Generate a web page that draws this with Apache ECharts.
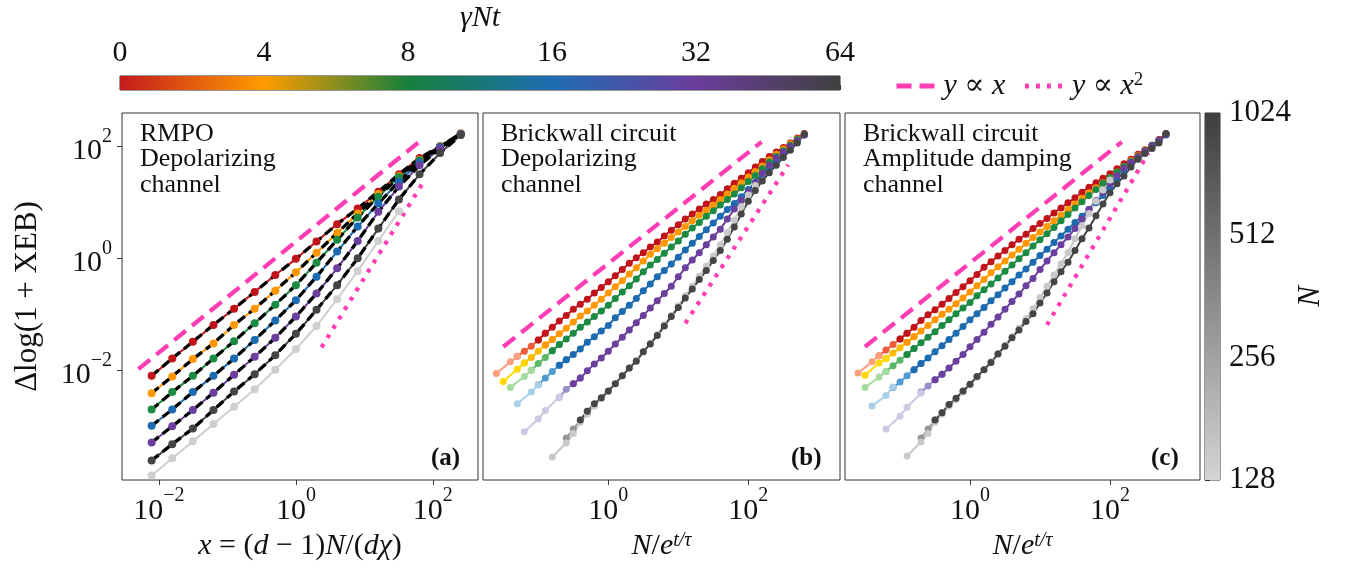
<!DOCTYPE html>
<html><head><meta charset="utf-8">
<script src="https://cdn.jsdelivr.net/npm/echarts@6/dist/echarts.min.js"></script>
<style>html,body{margin:0;padding:0;background:#fff}#c{width:1350px;height:569px}</style>
</head><body><div id="c"></div>
<script>
// ---- values, stored as log10 ----
// Panel (a): x = (d-1)N/(d chi)
const aLogX = [-2.107,-1.806,-1.505,-1.204,-0.903,-0.602,-0.301,0,0.301,0.602,0.903,1.204,1.505,1.806,2.107,2.408];
const aRed    = [-2.10,-1.79,-1.49,-1.19,-0.90,-0.60,-0.30,-0.01,0.30,0.61,0.89,1.19,1.50,1.79,2.00,2.23];
const aOrange = [-2.41,-2.11,-1.80,-1.52,-1.19,-0.90,-0.58,-0.25,0.10,0.45,0.80,1.15,1.47,1.76,1.99,2.23];
const aGreen  = [-2.70,-2.39,-2.10,-1.79,-1.48,-1.16,-0.83,-0.48,-0.08,0.33,0.73,1.10,1.45,1.75,1.99,2.22];
const aBlue   = [-2.99,-2.70,-2.39,-2.10,-1.79,-1.46,-1.11,-0.75,-0.33,0.12,0.57,0.98,1.37,1.71,1.98,2.22];
const aPurple = [-3.29,-3.00,-2.71,-2.40,-2.08,-1.76,-1.42,-1.04,-0.63,-0.18,0.31,0.83,1.28,1.66,1.96,2.21];
const aGray   = [-3.61,-3.32,-3.04,-2.71,-2.38,-2.07,-1.73,-1.35,-0.92,-0.48,0.00,0.53,1.05,1.50,1.88,2.20];
const aLightGray = [-3.88,-3.57,-3.27,-2.96,-2.65,-2.34,-1.99,-1.62,-1.21,-0.73,-0.23,0.31,0.84];

// Panels (b),(c): x = N / e^{t/tau}
const bcLogX = [-1.6,-1.5,-1.4,-1.3,-1.2,-1.1,-1.0,-0.9,-0.8,-0.7,-0.6,-0.5,-0.4,-0.3,-0.2,-0.1,0.0,0.1,0.2,0.3,0.4,0.5,0.6,0.7,0.8,0.9,1.0,1.1,1.2,1.3,1.4,1.5,1.6,1.7,1.8,1.9,2.0,2.1,2.2,2.3,2.4,2.5,2.6,2.7,2.8];

const bRed = [-2.06,-1.96,-1.85,-1.75,-1.66,-1.57,-1.46,-1.34,-1.23,-1.12,-1.02,-0.91,-0.82,-0.73,-0.62,-0.52,-0.42,-0.31,-0.20,-0.09,0.01,0.10,0.20,0.29,0.40,0.50,0.60,0.70,0.79,0.88,0.97,1.05,1.14,1.24,1.34,1.43,1.53,1.63,1.73,1.82,1.90,1.98,2.06,2.15,2.23];
const bRedLight = [-2.06,null,-1.85,-1.75];
const bOrange = [null,-2.20,-2.10,-1.98,-1.87,-1.77,-1.66,-1.55,-1.45,-1.35,-1.25,-1.14,-1.03,-0.94,-0.84,-0.73,-0.62,-0.51,-0.40,-0.28,-0.17,-0.05,0.07,0.17,0.27,0.37,0.47,0.57,0.67,0.77,0.86,0.95,1.05,1.15,1.25,1.35,1.45,1.55,1.65,1.76,1.86,1.95,2.04,2.13,2.22];
const bOrangeLight = [null,-2.20,null,-1.98,-1.87];
const bGreen = [null,null,-2.31,-2.21,-2.11,-2.00,-1.88,-1.77,-1.65,-1.54,-1.44,-1.34,-1.23,-1.14,-1.04,-0.94,-0.84,-0.72,-0.60,-0.49,-0.37,-0.24,-0.12,-0.02,0.09,0.20,0.31,0.43,0.54,0.64,0.75,0.85,0.95,1.05,1.15,1.26,1.37,1.48,1.60,1.72,1.82,1.92,2.02,2.12,2.21];
const bGreenLight = [null,null,-2.31,null,-2.11,-2.00];
const bBlue = [null,null,null,-2.60,-2.49,-2.39,-2.26,-2.14,-2.02,-1.91,-1.81,-1.72,-1.62,-1.50,-1.40,-1.30,-1.20,-1.06,-0.95,-0.84,-0.72,-0.58,-0.46,-0.33,-0.22,-0.10,0.02,0.15,0.27,0.39,0.51,0.63,0.75,0.87,0.98,1.10,1.23,1.36,1.50,1.62,1.74,1.86,1.97,2.09,2.20];
const bBlueLight = [null,null,null,-2.60,null,-2.39,-2.26];
const bPurple = [null,null,null,null,-3.10,-2.98,-2.87,-2.72,-2.60,-2.48,-2.34,-2.24,-2.14,-2.01,-1.89,-1.78,-1.66,-1.53,-1.41,-1.28,-1.15,-1.02,-0.89,-0.76,-0.63,-0.50,-0.33,-0.17,-0.03,0.10,0.24,0.38,0.52,0.70,0.88,1.04,1.19,1.35,1.52,1.66,1.79,1.90,2.00,2.10,2.20];
const bPurpleLight = [null,null,null,null,-3.10,null,-2.87,-2.72,null,-2.48];
const bGray = [null,null,null,null,null,null,null,null,-3.50,-3.36,-3.21,-3.05,-2.89,-2.73,-2.60,-2.49,-2.37,-2.24,-2.10,-1.96,-1.84,-1.67,-1.53,-1.38,-1.21,-1.04,-0.88,-0.71,-0.55,-0.38,-0.22,-0.04,0.14,0.34,0.56,0.79,1.02,1.21,1.38,1.53,1.66,1.80,1.93,2.06,2.22];
const bGrayLight = [null,null,null,null,null,null,null,null,-3.55,null,-3.30,-3.13,-2.93,-2.78,-2.64,-2.51,-2.38,-2.24,-2.10,-1.96,-1.82,-1.67,-1.52,-1.36,-1.19,-1.02,-0.85,-0.67,-0.50,-0.32,-0.14,0.04,0.24,0.46,0.68,0.92,1.13,1.30];

const cRed = [-2.05,-1.95,-1.85,-1.74,-1.64,-1.54,-1.44,-1.34,-1.23,-1.11,-1.01,-0.92,-0.82,-0.72,-0.61,-0.51,-0.40,-0.29,-0.16,-0.06,0.04,0.14,0.24,0.34,0.43,0.53,0.62,0.71,0.81,0.90,0.99,1.08,1.18,1.27,1.35,1.43,1.51,1.60,1.69,1.77,1.86,1.94,2.02,2.12,2.23];
const cRedLight = [-2.05,null,-1.85,-1.74];
const cOrange = [null,-2.09,-1.97,-1.87,-1.79,-1.69,-1.60,-1.50,-1.40,-1.30,-1.20,-1.10,-1.00,-0.91,-0.81,-0.71,-0.60,-0.49,-0.38,-0.26,-0.15,-0.05,0.06,0.16,0.27,0.37,0.47,0.57,0.67,0.77,0.87,0.97,1.07,1.17,1.26,1.35,1.44,1.54,1.64,1.74,1.83,1.92,2.01,2.11,2.22];
const cOrangeLight = [null,-2.09,null,-1.87,-1.79];
const cGreen = [null,null,-2.22,-2.12,-2.02,-1.92,-1.82,-1.72,-1.61,-1.51,-1.41,-1.31,-1.20,-1.10,-0.99,-0.89,-0.79,-0.67,-0.56,-0.46,-0.35,-0.23,-0.12,-0.01,0.10,0.22,0.33,0.44,0.55,0.67,0.78,0.90,1.01,1.12,1.23,1.34,1.44,1.54,1.64,1.73,1.82,1.92,2.02,2.11,2.21];
const cGreenLight = [null,-2.31,null,-2.12,-2.02];
const cBlue = [null,null,null,-2.54,-2.43,-2.31,-2.21,-2.10,-1.99,-1.88,-1.78,-1.67,-1.56,-1.45,-1.34,-1.22,-1.10,-0.99,-0.88,-0.76,-0.65,-0.53,-0.42,-0.30,-0.19,-0.07,0.05,0.16,0.28,0.40,0.52,0.64,0.75,0.87,0.99,1.12,1.26,1.41,1.56,1.68,1.79,1.89,1.99,2.09,2.20];
const cBlueLight = [null,null,-2.64,null,-2.45,-2.30];
const cPurple = [null,null,null,null,-3.03,-2.91,-2.79,-2.64,-2.51,-2.39,-2.28,-2.17,-2.07,-1.96,-1.84,-1.72,-1.58,-1.45,-1.32,-1.18,-1.05,-0.91,-0.77,-0.64,-0.49,-0.36,-0.20,-0.05,0.10,0.24,0.38,0.53,0.70,0.87,1.03,1.18,1.33,1.48,1.61,1.71,1.81,1.91,2.01,2.11,2.21];
const cPurpleLight = [null,null,null,null,-3.05,null,-2.82,-2.66,null,-2.41];
const cGray = [null,null,null,null,null,null,null,-3.48,-3.35,-3.21,-3.05,-2.89,-2.76,-2.61,-2.50,-2.37,-2.25,-2.11,-1.99,-1.86,-1.71,-1.57,-1.42,-1.28,-1.13,-0.99,-0.80,-0.62,-0.42,-0.24,-0.07,0.14,0.35,0.54,0.76,0.97,1.17,1.33,1.47,1.63,1.77,1.87,1.96,2.06,2.23];
const cGrayLight = [null,null,null,null,null,null,null,-3.53,null,-3.28,-3.13,-2.93,-2.78,-2.64,-2.52,-2.39,-2.26,-2.12,-1.99,-1.85,-1.70,-1.55,-1.40,-1.25,-1.08,-0.90,-0.70,-0.50,-0.30,-0.10,0.10,0.35,0.58,0.80,1.02,1.22,1.40];

// reference power-law guides (log10 endpoints)
const guideA1 = [[-2.30,-1.98],[1.86,2.14]], guideA2 = [[0.375,-1.59],[1.88,1.40]];
const guideB1 = [[-1.50,-1.58],[2.19,2.08]], guideB2 = [[1.10,-1.16],[2.57,1.67]];
const guideC1 = [[-1.50,-1.58],[2.17,2.08]], guideC2 = [[1.10,-1.19],[2.55,1.88]];

// tick labels
const cbTickLabels = ['0','4','8','16','32','64'];
const nTickValues = [128,256,512,1024];
const logTickValues = [0.01,1,100];

// ---- styling ----
const F = "'Liberation Serif','DejaVu Serif',serif";
const COL = {
  red:    ['#fc9f81','#ef5b3d','#c0141a'],
  orange: ['#ffd900','#ffbb00','#ff9800'],
  green:  ['#a6dba0','#5bb867','#1b8a42'],
  blue:   ['#a9cfe8','#4f9bd0','#1c6bb0'],
  purple: ['#cbc9e3','#9590c5','#6a3f9d'],
  gray:   ['#c9c9c9','#969696','#454545']
};
const PINK = '#ff3db4';
const P = v => Math.pow(10, v);
function pts(lx, ly, from, to) {
  const out = [];
  for (let i = from; i <= Math.min(to, ly.length - 1); i++) if (ly[i] != null) out.push([P(lx[i]), P(ly[i])]);
  return out;
}
function line(gi, data, color, size, width, extra) {
  return Object.assign({type:'line', xAxisIndex:gi, yAxisIndex:gi, data, symbol:'circle', symbolSize:size, showSymbol:true,
    lineStyle:{color, width}, itemStyle:{color}, silent:true, animation:false}, extra || {});
}
const series = [];
// panel a
series.push(line(0, pts(aLogX, aLightGray, 0, 99), '#cfcfcf', 8, 2));
[[aRed,'red'],[aOrange,'orange'],[aGreen,'green'],[aBlue,'blue'],[aPurple,'purple'],[aGray,'gray']].forEach(([arr,k]) => {
  series.push(line(0, pts(aLogX, arr, 0, 99), COL[k][2], 8, 2));
});
[aRed,aOrange,aGreen,aBlue,aPurple,aGray].forEach(arr => {
  series.push(line(0, pts(aLogX, arr, 0, 99), '#000', 0, 3.3, {symbol:'none', lineStyle:{color:'#000', width:3.3, type:[9,5]}}));
});
// panels b, c
function fam(gi, main, light, key, mid, dark) {
  const c = COL[key];
  series.push(line(gi, pts(bcLogX, main, mid[0], mid[1]), c[1], 7, 2));
  series.push(line(gi, pts(bcLogX, light, 0, 99), c[0], 7, 2));
  series.push(line(gi, pts(bcLogX, main, dark, 99), c[2], 7, 2));
}
fam(1, bRed, bRedLight, 'red', [3,7], 6);
fam(1, bOrange, bOrangeLight, 'orange', [4,8], 7);
fam(1, bGreen, bGreenLight, 'green', [5,9], 8);
fam(1, bBlue, bBlueLight, 'blue', [6,10], 9);
fam(1, bPurple, bPurpleLight, 'purple', [9,12], 11);
fam(1, bGray, bGrayLight, 'gray', [10,13], 12);
fam(2, cRed, cRedLight, 'red', [3,7], 6);
fam(2, cOrange, cOrangeLight, 'orange', [4,8], 7);
fam(2, cGreen, cGreenLight, 'green', [4,8], 7);
fam(2, cBlue, cBlueLight, 'blue', [5,9], 8);
fam(2, cPurple, cPurpleLight, 'purple', [9,12], 11);
fam(2, cGray, cGrayLight, 'gray', [9,12], 11);
// guides
function guide(gi, g, name, dash) {
  series.push({type:'line', name, xAxisIndex:gi, yAxisIndex:gi, data:g.map(p => [P(p[0]), P(p[1])]), symbol:'none',
    lineStyle:{color:PINK, width:4.3, type:dash, cap:'butt'}, itemStyle:{color:PINK}, silent:true, animation:false, z:3});
}
const N1 = 'y ∝ x', N2 = 'y ∝ x²';
guide(0, guideA1, N1, [15,8]); guide(0, guideA2, N2, [4,7]);
guide(1, guideB1, N1, [15,8]); guide(1, guideB2, N2, [4,7]);
guide(2, guideC1, N1, [15,8]); guide(2, guideC2, N2, [4,7]);
// colorbars
series.push({type:'line', xAxisIndex:3, yAxisIndex:3, data:[[0,0]], symbol:'none', silent:true, lineStyle:{opacity:0},
  markArea:{silent:true, itemStyle:{color:{type:'linear', x:0, y:0, x2:1, y2:0, colorStops:[
    {offset:0, color:'#c41a1c'},{offset:0.2, color:'#ff9c00'},{offset:0.4, color:'#16803c'},
    {offset:0.6, color:'#1e6db3'},{offset:0.8, color:'#6b3d9c'},{offset:1, color:'#404040'}]}},
    data:[[{coord:[0,0]},{coord:[5,1]}]]}});
series.push({type:'line', xAxisIndex:4, yAxisIndex:4, data:[[0,128]], symbol:'none', silent:true, lineStyle:{opacity:0},
  markArea:{silent:true, itemStyle:{color:{type:'linear', x:0, y:0, x2:0, y2:1, colorStops:[
    {offset:0, color:'#3e3e3e'},{offset:1, color:'#d4d4d4'}]}},
    data:[[{coord:[0,128]},{coord:[1,1024]}]]}});

const FS = 30;
const expRich = {
  b:{fontFamily:F, fontSize:FS, color:'#111', lineHeight:40, verticalAlign:'bottom'},
  s:{fontFamily:F, fontSize:20, color:'#111', lineHeight:20, verticalAlign:'top'}
};
const expFmt = v => { const e = Math.round(Math.log10(v)); return '{b|10}{s|' + (e < 0 ? '−' + (-e) : e) + '}'; };
const mathRich = {
  i:{fontFamily:F, fontStyle:'italic', fontSize:FS, color:'#111'},
  s:{fontFamily:F, fontStyle:'italic', fontSize:20, color:'#111', verticalAlign:'top', lineHeight:20}
};
const gridBox = {show:true, borderColor:'#333', borderWidth:1, backgroundColor:'transparent'};
function xLog(gi, lo, hi, name) {
  return {type:'log', gridIndex:gi, min:P(lo), max:P(hi), axisLine:{show:false}, splitLine:{show:false},
    axisTick:{show:true, customValues:logTickValues, length:5, lineStyle:{color:'#333'}},
    axisLabel:{show:true, customValues:logTickValues, formatter:expFmt, rich:expRich, margin:6},
    name, nameLocation:'middle', nameGap:50, nameTextStyle:{fontFamily:F, fontSize:FS, color:'#111', rich:mathRich}};
}
function yLog(gi, show) {
  return {type:'log', gridIndex:gi, min:P(-3.96), max:P(2.595), axisLine:{show:false}, splitLine:{show:false},
    axisTick:{show:show, customValues:logTickValues, length:5, lineStyle:{color:'#333'}},
    axisLabel:{show:show, customValues:logTickValues, formatter:expFmt, rich:expRich, margin:10}};
}
const yA = yLog(0, true);
Object.assign(yA, {name:'Δlog(1 + XEB)', nameLocation:'middle', nameGap:79, nameTextStyle:{fontFamily:F, fontSize:31, color:'#111'}});

const txt = (text, left, top, bold) => ({text, left, top, padding:0, textStyle:{fontFamily:F, fontSize: bold ? 25 : 26, fontWeight: bold ? 'bold' : 'normal', lineHeight:25.5, color:'#111'}});

const option = {
  animation:false,
  backgroundColor:'#fff',
  textStyle:{fontFamily:F},
  title:[
    txt('RMPO\nDepolarizing\nchannel', 140, 121),
    txt('Brickwall circuit\nDepolarizing\nchannel', 501, 121),
    txt('Brickwall circuit\nAmplitude damping\nchannel', 863, 121),
    txt('(a)', 431, 446, true), txt('(b)', 791, 446, true), txt('(c)', 1151, 446, true)
  ],
  legend:{data:[N1, N2], left:889, top:66, itemWidth:42, itemHeight:14, itemGap:17, selectedMode:false,
    itemStyle:{color:'rgba(0,0,0,0)', borderColor:'rgba(0,0,0,0)', borderWidth:0},
    lineStyle:{width:5},
    formatter: n => n === N1 ? '{i|y} ∝ {i|x}' : '{i|y} ∝ {i|x}{s|2}',
    textStyle:{fontFamily:F, fontSize:FS, color:'#111', rich:{
      i:{fontFamily:F, fontStyle:'italic', fontSize:FS, color:'#111'},
      s:{fontFamily:F, fontSize:19, color:'#111', verticalAlign:'top', lineHeight:19}}}},
  grid:[
    Object.assign({left:122, top:113, width:356, height:367}, gridBox),
    Object.assign({left:483, top:113, width:357, height:367}, gridBox),
    Object.assign({left:845, top:113, width:355, height:367}, gridBox),
    Object.assign({left:120, top:76, width:720, height:14}, gridBox),
    Object.assign({left:1205, top:113, width:15, height:367}, gridBox)
  ],
  xAxis:[
    xLog(0, -2.54, 2.66, '{i|x} = ({i|d} − 1){i|N}/({i|dχ})'),
    xLog(1, -1.79, 3.31, '{i|N}/{i|e}{s|t/τ}'),
    xLog(2, -1.786, 3.286, '{i|N}/{i|e}{s|t/τ}'),
    {type:'value', gridIndex:3, min:0, max:5, position:'top', axisLine:{show:false}, splitLine:{show:false},
      axisTick:{show:true, customValues:[0,1,2,3,4,5], length:5, lineStyle:{color:'#333'}},
      axisLabel:{show:true, customValues:[0,1,2,3,4,5], formatter: v => cbTickLabels[Math.round(v)], fontFamily:F, fontSize:FS, color:'#111', margin:8},
      name:'γNt', nameLocation:'middle', nameGap:43, nameTextStyle:{fontFamily:F, fontStyle:'italic', fontSize:FS, color:'#111'}},
    {type:'value', gridIndex:4, min:0, max:1, show:false}
  ],
  yAxis:[
    yA, yLog(1, false), yLog(2, false),
    {type:'value', gridIndex:3, min:0, max:1, show:false},
    {type:'log', logBase:2, gridIndex:4, min:128, max:1024, position:'right', axisLine:{show:false}, splitLine:{show:false},
      axisTick:{show:true, customValues:nTickValues, length:5, lineStyle:{color:'#333'}},
      axisLabel:{show:true, customValues:nTickValues, formatter: v => String(Math.round(v)), fontFamily:F, fontSize:31, color:'#111', margin:9},
      name:'N', nameLocation:'middle', nameGap:75, nameRotate:90, nameTextStyle:{fontFamily:F, fontStyle:'italic', fontSize:31, color:'#111'}}
  ],
  series
};
const chart = echarts.init(document.getElementById('c'));
chart.setOption(option);
</script>
</body></html>
